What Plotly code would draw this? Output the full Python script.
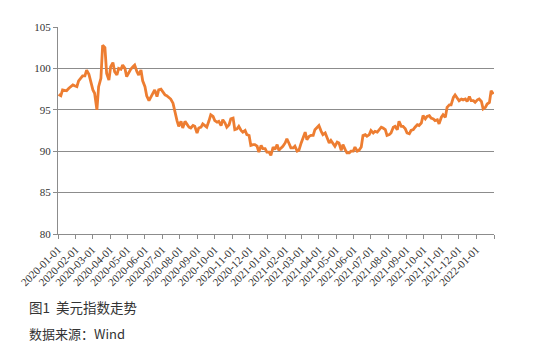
import pandas as pd
import plotly.graph_objects as go

vals_2020 = [
    96.85,
    96.7, 97.4, 97.3, 97.3, 97.6, 97.8, 98.0, 97.9,
    97.8, 98.5, 98.8, 99.1, 99.1, 99.8, 99.3, 98.5,
    97.4, 97.0, 95.0, 97.8, 98.8, 102.8, 102.5, 99.4, 98.6, 100.2,
    100.7, 99.6, 99.2, 100.0, 99.9, 100.4, 100.0, 99.0,
    99.6, 99.9, 100.2, 100.4, 99.6, 99.2, 99.8, 98.5,
    97.8, 96.7, 96.1, 96.5, 96.9, 97.4, 96.6, 97.4, 97.5, 97.2,
    96.8, 96.7, 96.5, 96.3, 95.8, 94.7, 93.7, 93.0,
    93.6, 92.8, 93.6, 93.3, 92.9, 92.8, 93.1, 93.0, 92.2, 92.8,
    92.9, 93.3, 93.1, 92.9, 93.7, 94.4, 94.2, 93.7,
    93.5, 93.6, 93.1, 93.8, 93.4, 92.9, 93.2, 93.9,
    94.0, 92.6, 92.7, 93.0, 92.5, 92.3, 92.5, 92.0, 91.9, 90.7,
    90.8, 90.8, 90.6, 89.9, 90.7, 90.3, 90.3, 89.9,
]
vals_2021 = [
    89.9, 89.5, 90.5, 90.2, 90.8, 90.1, 90.4, 90.6,
    91.0, 91.5, 90.9, 90.4, 90.4, 90.6, 90.0, 90.1,
    91.0, 91.6, 92.3, 91.4, 91.8, 91.9, 91.9, 92.6, 92.9, 93.1,
    92.4, 92.0, 92.2, 91.6, 91.0, 91.3, 90.9, 90.6,
    91.1, 91.0, 90.1, 90.8, 90.2, 89.8, 89.8, 90.0, 90.0, 90.5,
    90.0, 90.1, 90.5, 91.9, 92.0, 91.8, 92.0, 92.5,
    92.2, 92.4, 92.3, 92.6, 92.9, 92.8, 92.6, 91.9,
    92.0, 92.2, 92.9, 93.0, 92.6, 93.6, 93.0, 93.0, 92.7, 92.2,
    92.1, 92.5, 92.6, 92.9, 93.2, 93.1, 93.4, 94.3,
    93.9, 94.2, 94.3, 94.0, 93.9, 93.7, 93.8, 93.3,
    94.1, 94.4, 94.1, 95.3, 95.6, 95.6, 96.5, 96.8, 96.3, 96.1,
    96.3, 96.2, 96.3, 96.0, 96.6, 96.1, 96.1, 95.9,
]
vals_2022 = [96.2, 96.3, 96.0, 95.1, 95.3, 95.7, 95.9, 97.3, 96.9]

values = vals_2020 + vals_2021 + vals_2022
mondays = pd.date_range("2020-01-06", "2022-01-31", freq="W-MON")
thursdays = pd.date_range("2020-01-02", "2022-01-31", freq="W-THU")
dates = sorted(list(mondays) + list(thursdays))
assert len(dates) == len(values), (len(dates), len(values))

tick_dates = pd.date_range("2020-01-01", "2022-02-01", freq="MS")
tick_text = [d.strftime("%Y-%m-%d") for d in tick_dates[:-1]] + [""]

y_ticks = [80, 85, 90, 95, 100, 105]
caption_title = "图1  美元指数走势"
caption_source = "数据来源：Wind"

fig = go.Figure()
fig.add_trace(go.Scatter(
    x=dates, y=values, mode="lines",
    line=dict(color="#ED7D31", width=2.8),
    hoverinfo="skip", showlegend=False,
))

axis_font = dict(family="Liberation Serif, DejaVu Serif, serif", size=11, color="#333333")
fig.update_layout(
    width=549, height=351,
    margin=dict(l=58, r=55, t=27, b=117),
    paper_bgcolor="white", plot_bgcolor="white",
    xaxis=dict(
        range=[tick_dates[0], tick_dates[-1]],
        tickmode="array", tickvals=list(tick_dates), ticktext=tick_text,
        tickangle=-45, tickfont=axis_font,
        ticks="outside", ticklen=4, tickcolor="#8c8c8c", tickwidth=1,
        showline=True, linecolor="#8c8c8c", linewidth=1,
        showgrid=False, zeroline=False,
    ),
    yaxis=dict(
        range=[80, 105], tickmode="array", tickvals=y_ticks,
        tickfont=axis_font,
        ticks="outside", ticklen=4, tickcolor="#8c8c8c", tickwidth=1,
        showline=True, linecolor="#8c8c8c", linewidth=1,
        showgrid=True, gridcolor="#8c8c8c", gridwidth=1,
        zeroline=False,
    ),
    annotations=[
        dict(text=caption_title, xref="paper", yref="paper",
             x=-31 / 436, y=-(307 - 234) / 207, xanchor="left", yanchor="middle",
             showarrow=False,
             font=dict(family="Noto Sans CJK SC", size=13.5, color="#333333")),
        dict(text=caption_source, xref="paper", yref="paper",
             x=-31 / 436, y=-(333 - 234) / 207, xanchor="left", yanchor="middle",
             showarrow=False,
             font=dict(family="Noto Sans CJK SC", size=13, color="#333333")),
    ],
)

fig.write_html("out.html")
